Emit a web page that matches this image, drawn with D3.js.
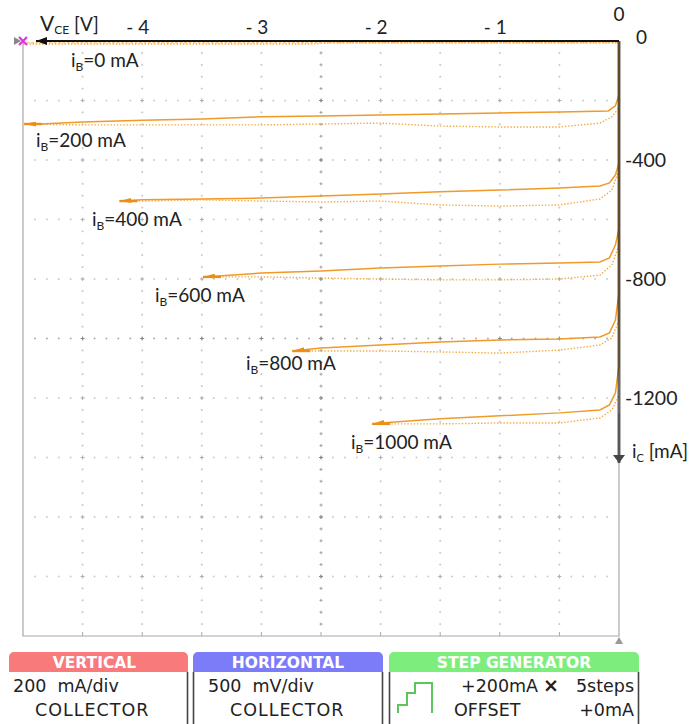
<!DOCTYPE html>
<html><head><meta charset="utf-8">
<script src="https://cdn.jsdelivr.net/npm/d3@7/dist/d3.min.js"></script>
<style>body{margin:0;background:#fff}svg{display:block}text{white-space:pre}</style>
</head><body><svg id="c" width="689" height="724"></svg>
<script>
// ---- data ----
const baseCurrents = ["0", "200", "400", "600", "800", "1000"]; // iB (mA)
const xTicks = [-4, -3, -2, -1];          // VCE (V)
const yTicks = [-400, -800, -1200];       // iC (mA)

// forward (solid) traces: VCE (V) / iC (mA)
const fwdV0 = [0, -5];
const fwdI0 = [-6, -6];
const fwdV200 = [0, 0, -0.03, -0.09, -0.5, -1, -1.5, -2, -2.5, -3, -3.5, -4, -4.5, -4.85, -4.99];
const fwdI200 = [0, -181, -218, -235, -239, -242, -245, -249, -252, -255, -262, -266, -272, -279, -279];
const fwdV400 = [0, 0, -0.03, -0.08, -0.16, -0.5, -1, -1.5, -2, -2.5, -3, -3.5, -4, -4.19];
const fwdI400 = [0, -410, -450, -477, -487, -494, -501, -507, -514, -521, -528, -531, -534, -538];
const fwdV600 = [0, 0, -0.03, -0.08, -0.16, -0.5, -1, -1.5, -2, -2.5, -3, -3.49];
const fwdI600 = [0, -629, -686, -729, -743, -746, -750, -756, -763, -773, -780, -793];
const fwdV800 = [0, 0, -0.03, -0.08, -0.16, -0.5, -1, -1.5, -2, -2.5, -2.74];
const fwdI800 = [0, -844, -938, -981, -995, -1002, -1005, -1012, -1022, -1032, -1042];
const fwdV1000 = [0, 0, -0.03, -0.08, -0.16, -0.5, -1, -1.5, -2, -2.07];
const fwdI1000 = [0, -1089, -1183, -1223, -1240, -1250, -1260, -1270, -1284, -1287];

// return (dotted) traces
const retV0 = [-5, -2.6, -2.4, 0];
const retI0 = [-10, -10, -6, -6];
const retV200 = [-4.99, -4.5, -4, -3, -2, -1.5, -1, -0.5, -0.16, -0.06, 0];
const retI200 = [-279, -282, -282, -282, -276, -286, -289, -289, -276, -255, -225];
const retV400 = [-4.19, -4, -3.5, -3, -2.5, -2, -1.5, -1, -0.5, -0.16, -0.06, 0];
const retI400 = [-538, -538, -534, -538, -541, -538, -551, -555, -551, -531, -501, -434];
const retV600 = [-3.49, -3, -2.5, -2, -1.5, -1, -0.5, -0.16, -0.06, 0];
const retI600 = [-793, -793, -797, -800, -803, -803, -800, -787, -753, -686];
const retV800 = [-2.74, -2.5, -2, -1.5, -1, -0.5, -0.16, -0.06, 0];
const retI800 = [-1042, -1042, -1042, -1045, -1049, -1039, -1022, -998, -938];
const retV1000 = [-2.07, -1.8, -1.5, -1, -0.5, -0.16, -0.06, 0];
const retI1000 = [-1287, -1287, -1287, -1284, -1284, -1267, -1240, -1190];

const fwd = [[fwdV0, fwdI0], [fwdV200, fwdI200], [fwdV400, fwdI400], [fwdV600, fwdI600], [fwdV800, fwdI800], [fwdV1000, fwdI1000]];
const ret = [[retV0, retI0], [retV200, retI200], [retV400, retI400], [retV600, retI600], [retV800, retI800], [retV1000, retI1000]];

// ---- drawing ----
const svg = d3.select("#c");
const FONT = "Lato, 'Open Sans', sans-serif";
const x = d3.scaleLinear().domain([-5, 0]).range([23, 619]);
const y = d3.scaleLinear().domain([0, -2000]).range([41, 636]);

const defs = svg.append("defs");
function marker(id, color, w, h) {
  defs.append("marker").attr("id", id).attr("markerUnits", "userSpaceOnUse")
    .attr("markerWidth", w).attr("markerHeight", h).attr("refX", w).attr("refY", h / 2)
    .attr("orient", "auto")
    .append("path").attr("d", `M0,0L${w},${h / 2}L0,${h}Z`).attr("fill", color);
}
marker("arrK", "#111", 11, 8);
marker("arrG", "#444", 8, 12);
marker("arrO", "#e8901a", 12, 5);

// grid of dots / crosses
const grid = svg.append("g");
const vLines = d3.range(1, 10).map(k => -5 + k * 0.5);
const iLines = d3.range(1, 10).map(k => -200 * k);
function cross(cx, cy, s, col) {
  grid.append("path").attr("d", `M${cx - s},${cy}H${cx + s}M${cx},${cy - s}V${cy + s}`)
    .attr("stroke", col).attr("stroke-width", 1);
}
vLines.forEach(v => {
  d3.range(1, 50).forEach(k => {
    const i = -40 * k;
    const center = Math.abs(v + 2.5) < 1e-9;
    cross(x(v), y(i), center ? 1.5 : 1, center ? "#a0a0a0" : "#c8c8c8");
  });
});
iLines.forEach(i => {
  d3.range(1, 50).forEach(k => {
    const v = -5 + k * 0.1;
    const center = i === -1000;
    grid.append("rect").attr("x", x(v) - 0.8).attr("y", y(i) - 0.8).attr("width", 1.6).attr("height", 1.6)
      .attr("fill", center ? "#a0a0a0" : "#c4c4c4");
  });
});
vLines.forEach(v => iLines.forEach(i => cross(x(v), y(i), 2, (v === -2.5 || i === -1000) ? "#888" : "#b0b0b0")));

// frame
svg.append("path").attr("d", `M${x(-5)},${y(0)}V${y(-2000)}H${x(0)}V${y(-1250)}`)
  .attr("fill", "none").attr("stroke", "#a8a8a8").attr("stroke-width", 1.2);
vLines.forEach(v => svg.append("line").attr("x1", x(v)).attr("x2", x(v)).attr("y1", y(-2000)).attr("y2", y(-2000) - 4)
  .attr("stroke", "#a8a8a8"));
svg.append("path").attr("d", `M${x(0)},${y(-2000) + 1}l-4,7h8z`).attr("fill", "#999");

// traces
const line = d3.line().x(d => x(d[0])).y(d => y(d[1]));
const traces = svg.append("g");
ret.forEach(([vs, is]) => {
  traces.append("path").attr("d", line(d3.zip(vs, is))).attr("fill", "none")
    .attr("stroke", "#f4a93c").attr("stroke-width", 1.4).attr("stroke-dasharray", "1.4,1.8");
});
fwd.forEach(([vs, is], k) => {
  traces.append("path").attr("d", line(d3.zip(vs, is))).attr("fill", "none")
    .attr("stroke", k > 0 ? "#f09a28" : "#f6b45a").attr("stroke-width", k > 0 ? 1.5 : 1.1)
    .attr("stroke-dasharray", k > 0 ? null : "3,1.5")
    .attr("marker-end", k > 0 ? "url(#arrO)" : null);
  if (k > 0) {
    const n = vs.length;
    traces.append("line").attr("x1", x(vs[n - 1])).attr("y1", y(is[n - 1]))
      .attr("x2", x(vs[n - 1]) + 18).attr("y2", y(is[n - 1])).attr("stroke", "#ec8f18").attr("stroke-width", 2.4);
  }
});

// axes lines
svg.append("line").attr("x1", x(0)).attr("x2", 36).attr("y1", y(0)).attr("y2", y(0))
  .attr("stroke", "#111").attr("stroke-width", 2).attr("marker-end", "url(#arrK)");
svg.append("line").attr("x1", x(0)).attr("x2", x(0)).attr("y1", y(0)).attr("y2", 463)
  .attr("stroke", "#222").attr("stroke-opacity", 0.68).attr("stroke-width", 3).attr("marker-end", "url(#arrG)");

// start marker
svg.append("path").attr("d", `M14,${y(0) - 4}L21,${y(0)}L14,${y(0) + 4}Z`).attr("fill", "#888");
svg.append("path").attr("d", `M19,${y(0) - 4}L27,${y(0) + 4}M27,${y(0) - 4}L19,${y(0) + 4}`)
  .attr("stroke", "#e033e0").attr("stroke-width", 2.2);

// tick labels via d3 axes
const xa = svg.append("g").attr("transform", "translate(-5,34)")
  .call(d3.axisTop(x).tickValues(xTicks).tickSize(0).tickPadding(0).tickFormat(d => "- " + Math.abs(d)));
xa.select(".domain").remove();
xa.selectAll("text").attr("font-family", FONT).attr("font-size", 19).attr("fill", "#222");

const ya = svg.append("g").attr("transform", "translate(625,0)")
  .call(d3.axisRight(y).tickValues(yTicks).tickSize(0).tickPadding(0).tickFormat(d => d));
ya.select(".domain").remove();
ya.selectAll("text").attr("font-family", FONT).attr("font-size", 19.5).attr("fill", "#222").attr("text-anchor", "start");

svg.append("text").attr("x", x(0)).attr("y", 21).attr("text-anchor", "middle")
  .attr("font-family", FONT).attr("font-size", 19).attr("fill", "#222").text("0");
svg.append("text").attr("x", 636).attr("y", 44)
  .attr("font-family", FONT).attr("font-size", 19).attr("fill", "#222").text("0");

// axis titles
const vt = svg.append("text").attr("x", 40).attr("y", 31).attr("font-family", FONT).attr("font-size", 21).attr("fill", "#222");
vt.append("tspan").text("V");
vt.append("tspan").attr("font-size", 12).attr("dy", 3).text("CE");
vt.append("tspan").attr("dy", -3).attr("font-size", 19).text(" [V]");
const it = svg.append("text").attr("x", 632).attr("y", 458).attr("font-family", FONT).attr("font-size", 19).attr("fill", "#222");
it.append("tspan").text("i");
it.append("tspan").attr("font-size", 11).attr("dy", 4).text("C");
it.append("tspan").attr("dy", -4).text(" [mA]");

// curve labels
const labelXY = [[71, 67], [36, 147], [92, 226], [155, 302], [246, 370], [351, 449]];
baseCurrents.forEach((b, k) => {
  const t = svg.append("text").attr("x", labelXY[k][0]).attr("y", labelXY[k][1])
    .attr("font-family", FONT).attr("font-size", 19).attr("fill", "#222");
  t.append("tspan").text("i");
  t.append("tspan").attr("font-size", 12).attr("dy", 4).text("B");
  t.append("tspan").attr("dy", -4).text("=" + b + " mA");
});

// bottom panel
const P = "'DejaVu Sans', sans-serif";
const panels = [
  {x0: 9, x1: 188, col: "#f87a7a", title: "VERTICAL"},
  {x0: 193, x1: 383, col: "#7c7cf8", title: "HORIZONTAL"},
  {x0: 389, x1: 639, col: "#7dee7d", title: "STEP GENERATOR"}
];
panels.forEach((p, k) => {
  svg.append("rect").attr("x", p.x0).attr("y", 652).attr("width", p.x1 - p.x0).attr("height", 20).attr("rx", 5).attr("fill", p.col);
  svg.append("rect").attr("x", p.x0).attr("y", 662).attr("width", p.x1 - p.x0).attr("height", 10).attr("fill", p.col);
  svg.append("text").attr("x", (p.x0 + p.x1) / 2 - (k === 0 ? 4 : 0)).attr("y", 667.5).attr("text-anchor", "middle")
    .attr("font-family", P).attr("font-weight", "bold").attr("font-size", 15.5).attr("fill", "#fff").text(p.title);
  if (k > 0) svg.append("line").attr("x1", p.x0 + 0.5).attr("x2", p.x0 + 0.5).attr("y1", 672).attr("y2", 724).attr("stroke", "#444").attr("stroke-width", 1.6);
  svg.append("line").attr("x1", p.x1 - 0.5).attr("x2", p.x1 - 0.5).attr("y1", 672).attr("y2", 724).attr("stroke", "#444").attr("stroke-width", 1.6);
});
function ptxt(xp, yp, s, anchor, extra) {
  const t = svg.append("text").attr("x", xp).attr("y", yp).attr("font-family", P).attr("font-size", 17.5)
    .attr("fill", "#222").attr("text-anchor", anchor || "start").text(s);
  if (extra) extra(t);
  return t;
}
ptxt(13, 692, "200  mA/div");
ptxt(35, 716, "COLLECTOR", "start", t => t.attr("letter-spacing", 1));
ptxt(208, 692, "500  mV/div");
ptxt(230, 716, "COLLECTOR", "start", t => t.attr("letter-spacing", 1));
ptxt(461, 692, "+200mA");
ptxt(551, 692, "×", "middle", t => t.attr("font-weight", "bold").attr("font-size", 19));
ptxt(634, 692, "5steps", "end");
ptxt(454, 716, "OFFSET");
ptxt(634, 716, "+0mA", "end");
svg.append("path").attr("d", "M398,713V705H407V693H415V683H432V713").attr("fill", "none").attr("stroke", "#5cc65c").attr("stroke-width", 2);
</script></body></html>
